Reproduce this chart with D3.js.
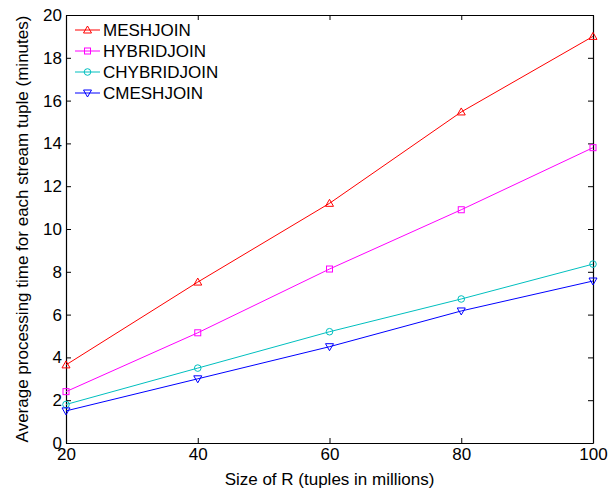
<!DOCTYPE html>
<html><head><meta charset="utf-8">
<script src="https://cdn.jsdelivr.net/npm/d3@7"></script>
<style>body{margin:0;background:#fff}svg{display:block}text{font-family:"Liberation Sans",Arial,sans-serif}</style>
</head><body><svg width="612" height="488"></svg>
<script>
const xValues = [20, 40, 60, 80, 100];
const meshjoin = [3.65, 7.52, 11.2, 15.47, 19.0];
const hybridjoin = [2.4, 5.15, 8.13, 10.9, 13.8];
const chybridjoin = [1.8, 3.5, 5.2, 6.73, 8.36];
const cmeshjoin = [1.5, 3.0, 4.5, 6.17, 7.57];
const seriesNames = ["MESHJOIN", "HYBRIDJOIN", "CHYBRIDJOIN", "CMESHJOIN"];
const xTicks = [20, 40, 60, 80, 100];
const yTicks = [0, 2, 4, 6, 8, 10, 12, 14, 16, 18, 20];

const series = [
  {name: seriesNames[0], values: meshjoin, color: "#ff0000", marker: "up"},
  {name: seriesNames[1], values: hybridjoin, color: "#ff00ff", marker: "square"},
  {name: seriesNames[2], values: chybridjoin, color: "#00bfbf", marker: "circle"},
  {name: seriesNames[3], values: cmeshjoin, color: "#0000ff", marker: "down"}
];

const svg = d3.select("svg");
const L = 66, R = 593, T = 15, B = 443;
const x = d3.scaleLinear().domain([20, 100]).range([L, R]);
const y = d3.scaleLinear().domain([0, 20]).range([B, T]);
const FS = 17;

function marker(g, type, cx, cy, color) {
  const s = 3.5;
  if (type === "up") g.append("path").attr("d", `M${cx},${cy-s-0.5}L${cx+s+0.5},${cy+s-0.5}L${cx-s-0.5},${cy+s-0.5}Z`);
  else if (type === "down") g.append("path").attr("d", `M${cx},${cy+s+0.5}L${cx+s+0.5},${cy-s+0.5}L${cx-s-0.5},${cy-s+0.5}Z`);
  else if (type === "square") g.append("rect").attr("x", cx-3).attr("y", cy-3).attr("width", 6).attr("height", 6);
  else g.append("circle").attr("cx", cx).attr("cy", cy).attr("r", 3.3);
  g.selectAll("*").attr("fill", "none").attr("stroke", color).attr("stroke-width", 1);
}

// axes box
const tickLen = 5;
const axB = svg.append("g").attr("transform", `translate(0,${B})`)
  .call(d3.axisBottom(x).tickValues(xTicks).tickSizeInner(-tickLen).tickSizeOuter(0).tickPadding(5));
const axT = svg.append("g").attr("transform", `translate(0,${T})`)
  .call(d3.axisTop(x).tickValues(xTicks).tickSizeInner(-tickLen).tickSizeOuter(0).tickFormat(""));
const axL = svg.append("g").attr("transform", `translate(${L},0)`)
  .call(d3.axisLeft(y).tickValues(yTicks).tickSizeInner(-tickLen).tickSizeOuter(0).tickPadding(4));
const axR = svg.append("g").attr("transform", `translate(${R},0)`)
  .call(d3.axisRight(y).tickValues(yTicks).tickSizeInner(-tickLen).tickSizeOuter(0).tickFormat(""));
[axB, axT, axL, axR].forEach(a => {
  a.selectAll("path").attr("stroke", "#000").attr("stroke-width", 1.2);
  a.selectAll("line").attr("stroke", "#000");
  a.selectAll("text").attr("font-size", FS).attr("fill", "#000").attr("font-family", '"Liberation Sans",Arial,sans-serif');
});

// lines
const line = d3.line().x((d, i) => x(xValues[i])).y(d => y(d));
series.forEach(s => {
  svg.append("path").datum(s.values).attr("d", line)
    .attr("fill", "none").attr("stroke", s.color).attr("stroke-width", 1);
  s.values.forEach((v, i) => marker(svg.append("g"), s.marker, x(xValues[i]), y(v), s.color));
});

// legend
series.forEach((s, i) => {
  const ly = 30 + i * 21;
  svg.append("line").attr("x1", 75).attr("x2", 100).attr("y1", ly).attr("y2", ly)
    .attr("stroke", s.color).attr("stroke-width", 1);
  marker(svg.append("g"), s.marker, 87.5, ly, s.color);
  svg.append("text").attr("x", 103).attr("y", ly + 6).attr("font-size", FS).attr("fill", "#000").text(s.name);
});

// axis labels
svg.append("text").attr("x", (L + R) / 2).attr("y", 485).attr("text-anchor", "middle")
  .attr("font-size", FS).text("Size of R (tuples in millions)");
svg.append("text").attr("transform", `translate(28,${(T + B) / 2}) rotate(-90)`).attr("text-anchor", "middle")
  .attr("font-size", FS).text("Average processing time for each stream tuple (minutes)");
</script></body></html>
